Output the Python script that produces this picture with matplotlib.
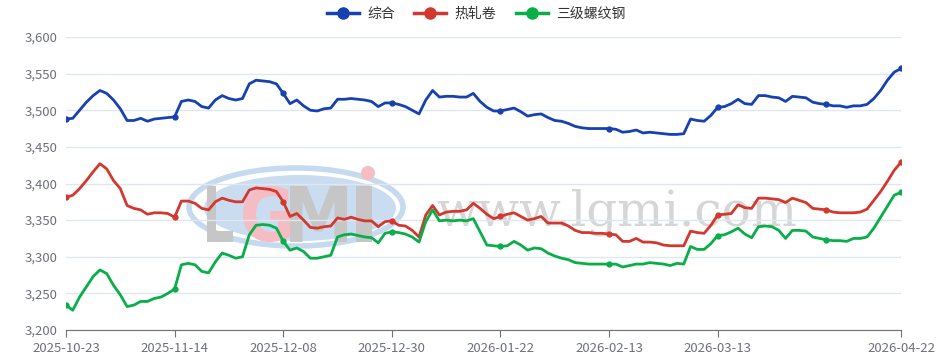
import numpy as np
import matplotlib
matplotlib.use('Agg')
import matplotlib.pyplot as plt
from matplotlib.patches import Ellipse, PathPatch, Circle
from matplotlib.textpath import TextPath
from matplotlib.font_manager import FontProperties
from matplotlib.transforms import Affine2D, IdentityTransform
from matplotlib.lines import Line2D
from matplotlib.ticker import FuncFormatter, MultipleLocator

plt.rcParams['font.family'] = ['Noto Sans CJK SC', 'DejaVu Sans']

# trading-day series, 2025-10-23 .. 2026-04-22
composite = [3488, 3489, 3500, 3511, 3520, 3527, 3523, 3514, 3502, 3486,
             3486, 3489, 3485, 3488, 3489, 3490, 3491, 3512, 3514, 3512,
             3505, 3503, 3514, 3520, 3516, 3514, 3516, 3536, 3541, 3540,
             3539, 3536, 3523, 3509, 3514, 3506, 3500, 3499, 3502, 3503,
             3515, 3515, 3516, 3515, 3514, 3512, 3505, 3510, 3510, 3508,
             3505, 3500, 3495, 3514, 3527, 3518, 3519, 3519, 3518, 3518,
             3523, 3512, 3504, 3499, 3499, 3501, 3503, 3498, 3492, 3494,
             3495, 3490, 3486, 3485, 3482, 3478, 3476, 3475, 3475, 3475,
             3475, 3474, 3470, 3471, 3473, 3469, 3470, 3469, 3468, 3467,
             3467, 3468, 3488, 3486, 3485, 3493, 3504, 3505, 3509, 3515,
             3509, 3508, 3520, 3520, 3518, 3517, 3512, 3519, 3518, 3517,
             3511, 3509, 3508, 3506, 3506, 3504, 3506, 3506, 3508, 3516,
             3527, 3541, 3552, 3557]
hot_rolled = [3381, 3384, 3393, 3404, 3416, 3427, 3420, 3404, 3393, 3370,
              3366, 3364, 3358, 3360, 3360, 3359, 3354, 3376, 3376, 3373,
              3366, 3364, 3375, 3380, 3377, 3375, 3375, 3391, 3394, 3393,
              3392, 3389, 3375, 3355, 3359, 3350, 3340, 3339, 3341, 3342,
              3353, 3351, 3354, 3351, 3349, 3349, 3341, 3348, 3349, 3343,
              3342, 3336, 3327, 3357, 3370, 3357, 3361, 3362, 3362, 3364,
              3373, 3366, 3358, 3352, 3355, 3358, 3360, 3355, 3350, 3352,
              3355, 3346, 3346, 3346, 3342, 3336, 3333, 3333, 3332, 3332,
              3331, 3330, 3321, 3321, 3325, 3320, 3320, 3319, 3316, 3315,
              3315, 3315, 3335, 3333, 3332, 3343, 3357, 3358, 3359, 3371,
              3367, 3366, 3380, 3380, 3379, 3378, 3374, 3380, 3377, 3374,
              3366, 3365, 3364, 3361, 3360, 3360, 3360, 3361, 3365, 3377,
              3389, 3403, 3418, 3429]
rebar = [3234, 3227, 3245, 3259, 3273, 3282, 3277, 3261, 3248, 3232,
         3234, 3239, 3239, 3243, 3245, 3250, 3256, 3289, 3291, 3289,
         3280, 3278, 3293, 3305, 3302, 3298, 3300, 3330, 3343, 3344,
         3343, 3339, 3321, 3309, 3312, 3307, 3298, 3298, 3300, 3302,
         3327, 3330, 3331, 3329, 3327, 3326, 3319, 3332, 3334, 3333,
         3331, 3327, 3320, 3348, 3364, 3349, 3350, 3349, 3350, 3349,
         3352, 3334, 3316, 3315, 3314, 3315, 3321, 3316, 3309, 3312,
         3311, 3305, 3301, 3298, 3296, 3292, 3291, 3290, 3290, 3290,
         3290, 3290, 3286, 3288, 3290, 3290, 3292, 3291, 3290, 3288,
         3291, 3290, 3314, 3310, 3310, 3318, 3329, 3330, 3334, 3339,
         3331, 3326, 3341, 3342, 3341, 3336, 3325, 3336, 3336, 3335,
         3327, 3325, 3323, 3322, 3322, 3321, 3325, 3325, 3327, 3339,
         3354, 3369, 3384, 3388]

tick_idx = [0, 16, 32, 48, 64, 80, 96, 123]
tick_labels = ['2025-10-23', '2025-11-14', '2025-12-08', '2025-12-30',
               '2026-01-22', '2026-02-13', '2026-03-13', '2026-04-22']

series = [('综合', composite, '#1740B0'),
          ('热轧卷', hot_rolled, '#D3382F'),
          ('三级螺纹钢', rebar, '#09AE48')]

W, H = 952, 364
fig = plt.figure(figsize=(W / 100, H / 100), dpi=100)
ax = fig.add_axes([66/W, 34/H, 835/W, 293/H])

# --- watermark (pixel coordinates, origin bottom-left) ---
px = IdentityTransform()
ax.add_patch(Ellipse((296, H - 207), 214, 78, transform=px, facecolor='none',
                     edgecolor='#c6daef', lw=4, zorder=0))
ax.add_patch(Ellipse((300, H - 208), 192, 66, transform=px,
                     facecolor='#cadcf0', edgecolor='none', zorder=0))
bold = FontProperties(family='DejaVu Sans', weight='bold')
letters = [('L', 207, 233, '#c6c6c6'), ('G', 243, 290, '#f5bcc3'),
           ('M', 290, 347, '#c6c6c6'), ('I', 356, 372, '#c6c6c6')]
for ch, x0, x1, col in letters:
    tp = TextPath((0, 0), ch, size=1, prop=bold)
    ext = tp.get_extents()
    tr = Affine2D().translate(-ext.x0, -ext.y0).scale(
        (x1 - x0) / ext.width, 56 / ext.height).translate(x0, H - 242)
    ax.add_patch(PathPatch(tr.transform_path(tp), transform=px,
                           facecolor=col, edgecolor='none', zorder=0.2))
ax.add_patch(Circle((368, H - 173), 7, transform=px, facecolor='#f5bcc3',
                    edgecolor='none', zorder=0.2))
ax.text(617, H - 212, 'www.lgmi.com', transform=px, ha='center',
        va='center', fontsize=35, color='#d6d6d6', family='DejaVu Serif',
        zorder=0.2)

x = np.arange(len(composite))
mark = list(range(0, len(x), 16)) + [len(x) - 1]
for name, vals, col in series:
    ax.plot(x, vals, color=col, lw=2, marker='o', ms=3.5,
            markevery=mark, solid_joinstyle='round', zorder=3)

ax.set_xlim(0, len(x) - 1)
ax.set_ylim(3200, 3600)
ax.yaxis.set_major_locator(MultipleLocator(50))
ax.yaxis.set_major_formatter(FuncFormatter(lambda v, p: f'{v:,.0f}'))
ax.grid(axis='y', color='#E0E6F1', lw=1)
ax.set_axisbelow(True)
for s in ['top', 'right', 'left']:
    ax.spines[s].set_visible(False)
ax.spines['bottom'].set_color('#6E7079')
ax.set_xticks(tick_idx)
ax.set_xticklabels(tick_labels)
ax.tick_params(axis='x', colors='#6E7079', length=5, labelcolor='#6E7079',
               labelsize=9.5, pad=4)
ax.tick_params(axis='y', length=0, labelcolor='#6E7079', labelsize=9.5, pad=6)

handles = [Line2D([], [], color=c, lw=2.5, marker='o', ms=8) for _, _, c in series]
fig.legend(handles, [n for n, _, _ in series], loc='upper center',
           bbox_to_anchor=(0.5, 1.015), ncol=3, frameon=False, fontsize=10,
           handlelength=2.3, columnspacing=1.4, handletextpad=0.6,
           labelcolor='#333333')

fig.savefig('out.png', dpi=100)
